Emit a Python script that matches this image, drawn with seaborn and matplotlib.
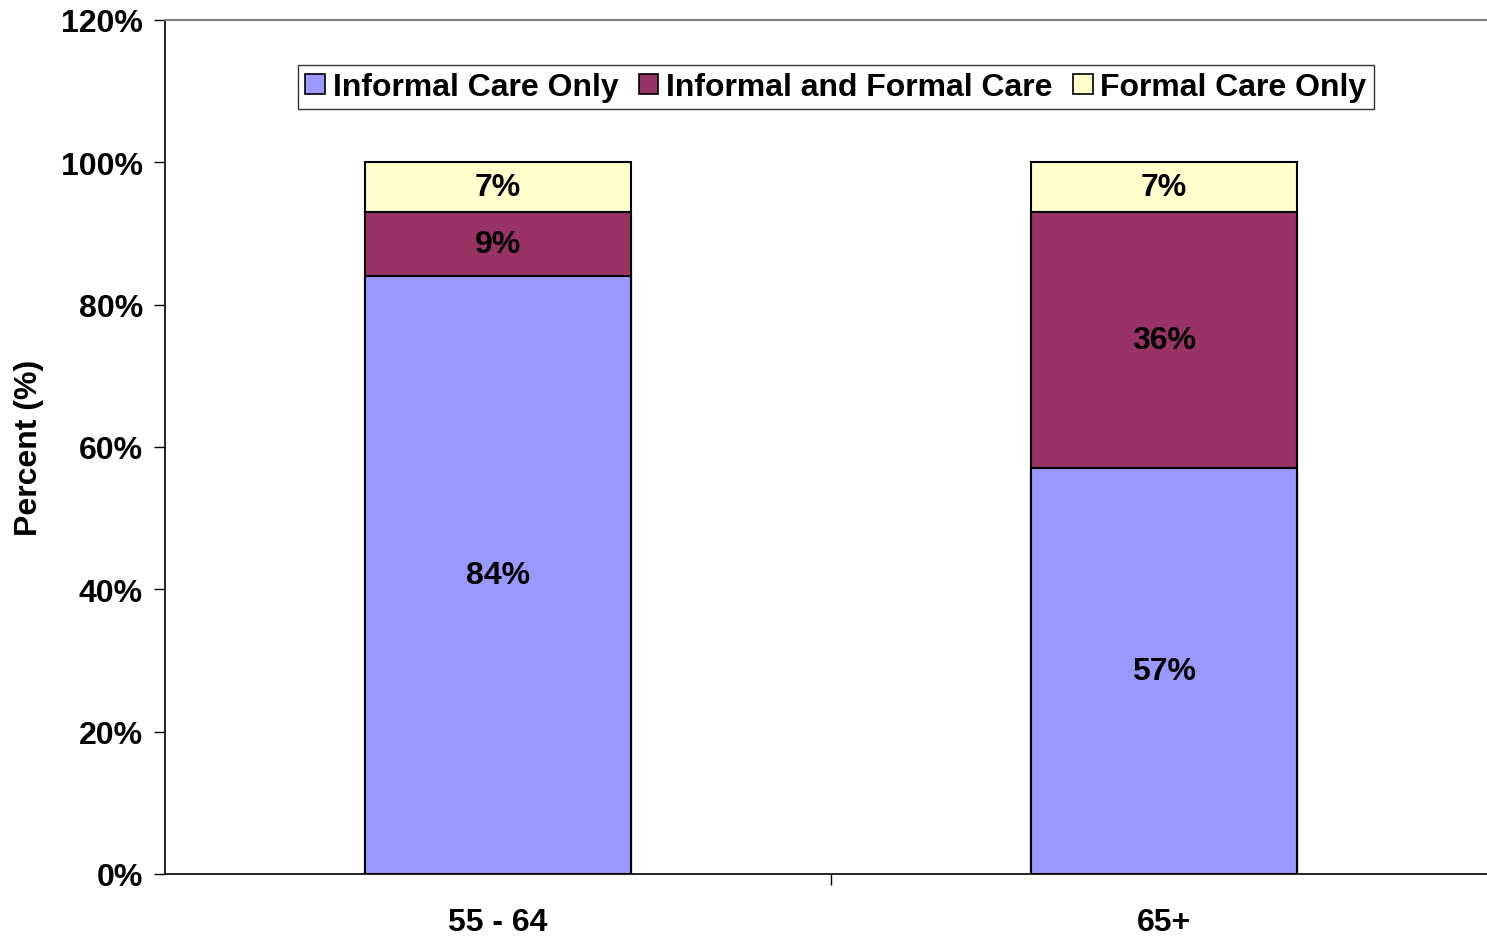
import pandas as pd
import matplotlib.pyplot as plt
import seaborn as sns
from matplotlib.patches import Patch
from matplotlib.ticker import FixedLocator

# данные с картинки
groups = ["55 - 64", "65+"]
informal_only = [84, 57]
informal_formal = [9, 36]
formal_only = [7, 7]

series_names = ["Informal Care Only", "Informal and Formal Care", "Formal Care Only"]
colors = ["#9999FF", "#993366", "#FFFFCC"]

df = pd.DataFrame({
    "group": groups,
    "informal": informal_only,
    "both": informal_formal,
    "formal": formal_only,
})
df["top1"] = df["informal"]
df["top2"] = df["informal"] + df["both"]
df["top3"] = df["top2"] + df["formal"]

sns.set_style("white")
plt.rcParams["font.family"] = ["Liberation Sans", "DejaVu Sans"]
plt.rcParams["font.weight"] = "bold"
plt.rcParams["text.color"] = "black"
plt.rcParams["axes.labelcolor"] = "black"
plt.rcParams["xtick.color"] = "black"
plt.rcParams["ytick.color"] = "black"
FS = 23

fig = plt.figure(figsize=(14.87, 9.37), dpi=100)
ax = fig.add_axes([165 / 1487, 62 / 937, 1332 / 1487, 854 / 937])

# stacked bars: draw cumulative heights, tallest first
for col, c in zip(["top3", "top2", "top1"], colors[::-1]):
    sns.barplot(data=df, x="group", y=col, color=c, width=0.4,
                edgecolor="black", linewidth=1.5, saturation=1, ax=ax)

# segment labels
for i in range(len(groups)):
    bottoms = [0, df["top1"][i], df["top2"][i]]
    vals = [informal_only[i], informal_formal[i], formal_only[i]]
    for b, v in zip(bottoms, vals):
        ax.text(i, b + v / 2, f"{v}%", ha="center", va="center",
                fontsize=FS, fontweight="bold", color="black")

ax.set_xlim(-0.5, 1.5)
ax.set_ylim(0, 120)
ax.set_yticks(range(0, 121, 20))
ax.set_yticklabels([f"{t}%" for t in range(0, 121, 20)])
ax.xaxis.set_minor_locator(FixedLocator([0.5]))
ax.tick_params(axis="x", which="major", length=0, pad=24, labelsize=FS,
               labelcolor="black")
ax.tick_params(axis="x", which="minor", length=8, width=1, color="black",
               direction="out", bottom=True)
ax.tick_params(axis="y", length=8, width=1, color="black", direction="out",
               left=True, pad=8, labelsize=FS, labelcolor="black")
for lab in ax.get_xticklabels() + ax.get_yticklabels():
    lab.set_fontweight("bold")

ax.set_xlabel("")
ax.set_ylabel("Percent (%)", fontsize=FS, fontweight="bold", color="black")
ax.yaxis.set_label_coords(-0.091, 0.5)

for s in ["left", "bottom"]:
    ax.spines[s].set_color("black")
    ax.spines[s].set_linewidth(1.2)
ax.spines["right"].set_visible(False)
ax.spines["top"].set_color("#808080")
ax.spines["top"].set_linewidth(1.5)

handles = [Patch(facecolor=c, edgecolor="black", linewidth=1.2) for c in colors]
leg = ax.legend(handles, series_names, loc="upper center",
                bbox_to_anchor=(671 / 1332, 0.947), ncol=3, frameon=True,
                fancybox=False, shadow=False, handlelength=0.6,
                handleheight=0.6, handletextpad=0.25, columnspacing=0.65,
                borderpad=0.22, borderaxespad=0,
                prop={"size": FS, "weight": "bold"})
leg.get_frame().set_edgecolor("black")
leg.get_frame().set_linewidth(1.0)
for t in leg.get_texts():
    t.set_color("black")

fig.savefig("out.png", dpi=100)
